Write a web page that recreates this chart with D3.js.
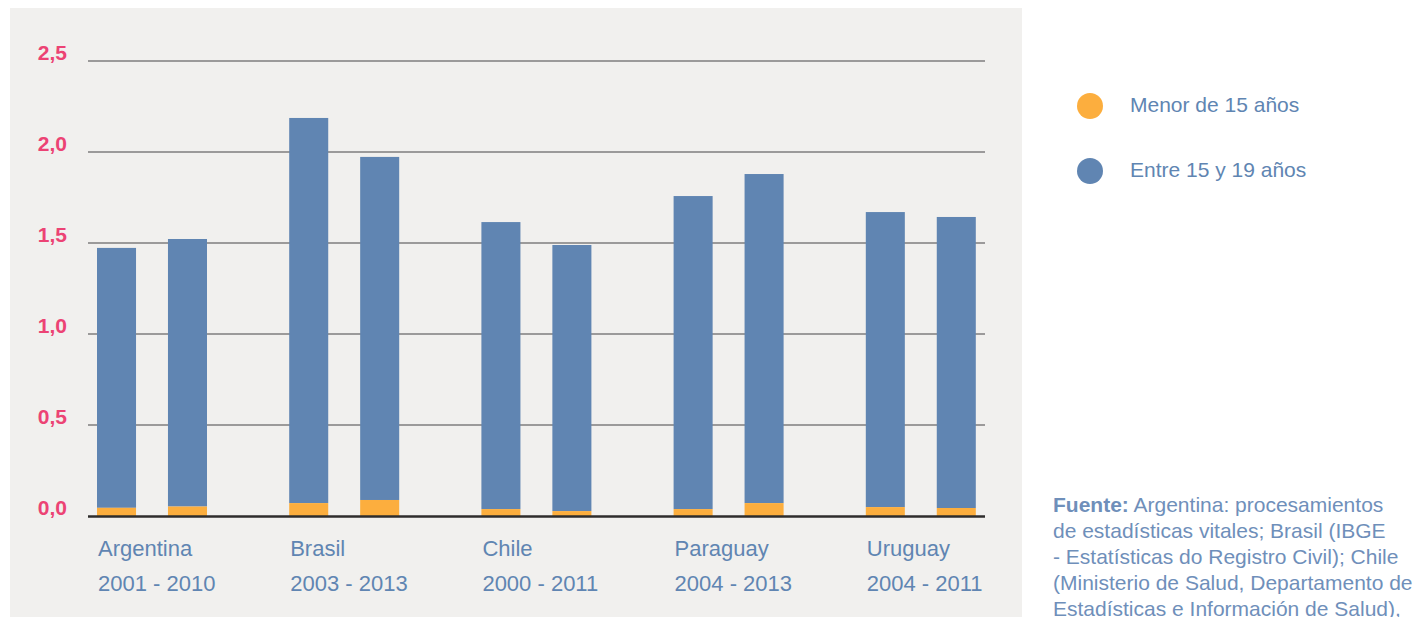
<!DOCTYPE html>
<html>
<head>
<meta charset="utf-8">
<script src="https://cdn.jsdelivr.net/npm/d3@7"></script>
<style>
  body { margin: 0; background: #fff; }
  svg { display: block; font-family: "Liberation Sans", Arial, Helvetica, sans-serif; }
</style>
</head>
<body>
<svg id="chart"></svg>
<script>
var countries = ['Argentina', 'Brasil', 'Chile', 'Paraguay', 'Uruguay'];
var periods = ['2001 - 2010', '2003 - 2013', '2000 - 2011', '2004 - 2013', '2004 - 2011'];
// two bars per country: first year, last year
var under15 = [0.045, 0.052, 0.071, 0.088, 0.038, 0.027, 0.038, 0.071, 0.049, 0.044];
var age15to19 = [1.428, 1.470, 2.116, 1.885, 1.577, 1.462, 1.720, 1.808, 1.621, 1.599];
var yTicks = [0, 0.5, 1.0, 1.5, 2.0, 2.5];
var seriesNames = ['Menor de 15 años', 'Entre 15 y 19 años'];
var seriesColors = ['#fcae3e', '#6085b2'];

var W = 1418, H = 617;
var svg = d3.select('#chart').attr('width', W).attr('height', H);

// gray panel
svg.append('rect')
  .attr('x', 10).attr('y', 8)
  .attr('width', 1012).attr('height', 609)
  .style('fill', '#f1f0ee');

var plotLeft = 88, plotRight = 985;

var y = d3.scaleLinear().domain([0, 2.5]).range([516, 61]);

var xGroup = d3.scaleBand()
  .domain(countries)
  .range([97, 1058]);

var xBar = d3.scaleBand()
  .domain([0, 1])
  .range([0, 110])
  .paddingInner(0.45)
  .paddingOuter(0);

// gridlines
svg.append('g')
  .selectAll('line')
  .data(yTicks.filter(function(d) { return d > 0; }))
  .enter()
  .append('line')
  .attr('x1', plotLeft).attr('x2', plotRight)
  .attr('y1', function(d) { return y(d); })
  .attr('y2', function(d) { return y(d); })
  .style('stroke', '#9b9a9a')
  .style('stroke-width', 2);

// y labels
svg.append('g')
  .selectAll('text')
  .data(yTicks)
  .enter()
  .append('text')
  .attr('x', 67)
  .attr('y', function(d) { return y(d) - 7; })
  .attr('text-anchor', 'end')
  .attr('dominant-baseline', 'middle')
  .style('font-size', '21px')
  .style('font-weight', 'bold')
  .style('fill', '#ec4374')
  .text(function(d) { return d3.format('.1f')(d).replace('.', ','); });

// bars
var barData = [];
countries.forEach(function(c, ci) {
  for (var k = 0; k < 2; k++) {
    var i = ci * 2 + k;
    barData.push({ country: c, k: k, a: under15[i], b: age15to19[i] });
  }
});

var bars = svg.append('g');
bars.selectAll('.blue')
  .data(barData)
  .enter()
  .append('rect')
  .attr('x', function(d) { return xGroup(d.country) + xBar(d.k); })
  .attr('width', xBar.bandwidth())
  .attr('y', function(d) { return y(d.a + d.b); })
  .attr('height', function(d) { return y(d.a) - y(d.a + d.b); })
  .style('fill', seriesColors[1]);

bars.selectAll('.orange')
  .data(barData)
  .enter()
  .append('rect')
  .attr('x', function(d) { return xGroup(d.country) + xBar(d.k); })
  .attr('width', xBar.bandwidth())
  .attr('y', function(d) { return y(d.a); })
  .attr('height', function(d) { return y(0) - y(d.a); })
  .style('fill', seriesColors[0]);

// baseline
svg.append('line')
  .attr('x1', plotLeft).attr('x2', plotRight)
  .attr('y1', y(0) + 0.5).attr('y2', y(0) + 0.5)
  .style('stroke', '#2e2d2c')
  .style('stroke-width', 2.5);

// category labels
var catLabels = svg.append('g')
  .selectAll('g')
  .data(countries)
  .enter()
  .append('g')
  .attr('transform', function(d) { return 'translate(' + (xGroup(d) + 1) + ',0)'; });

catLabels.append('text')
  .attr('y', 556)
  .style('font-size', '22px')
  .style('fill', '#6085b2')
  .text(function(d) { return d; });

catLabels.append('text')
  .attr('y', 591)
  .style('font-size', '22px')
  .style('fill', '#6085b2')
  .text(function(d, i) { return periods[i]; });

// legend
var legend = svg.append('g')
  .selectAll('g')
  .data(seriesNames)
  .enter()
  .append('g')
  .attr('transform', function(d, i) { return 'translate(1090,' + (106 + i * 65) + ')'; });

legend.append('circle')
  .attr('r', 13)
  .style('fill', function(d, i) { return seriesColors[i]; });

legend.append('text')
  .attr('x', 40)
  .attr('dominant-baseline', 'middle')
  .style('font-size', '21px')
  .style('fill', '#6085b2')
  .text(function(d) { return d; });

// source note
var sourceLines = [
  ['Fuente:', ' Argentina: procesamientos'],
  ['', 'de estadísticas vitales; Brasil (IBGE'],
  ['', '- Estatísticas do Registro Civil); Chile'],
  ['', '(Ministerio de Salud, Departamento de'],
  ['', 'Estadísticas e Información de Salud),']
];

var src = svg.append('text')
  .style('font-size', '21px')
  .style('fill', '#6f8fba');

sourceLines.forEach(function(l, i) {
  var t = src.append('tspan')
    .attr('x', 1053)
    .attr('y', 512 + i * 26);
  if (l[0]) {
    t.append('tspan').style('font-weight', 'bold').text(l[0]);
  }
  t.append('tspan').text(l[1]);
});
</script>
</body>
</html>
